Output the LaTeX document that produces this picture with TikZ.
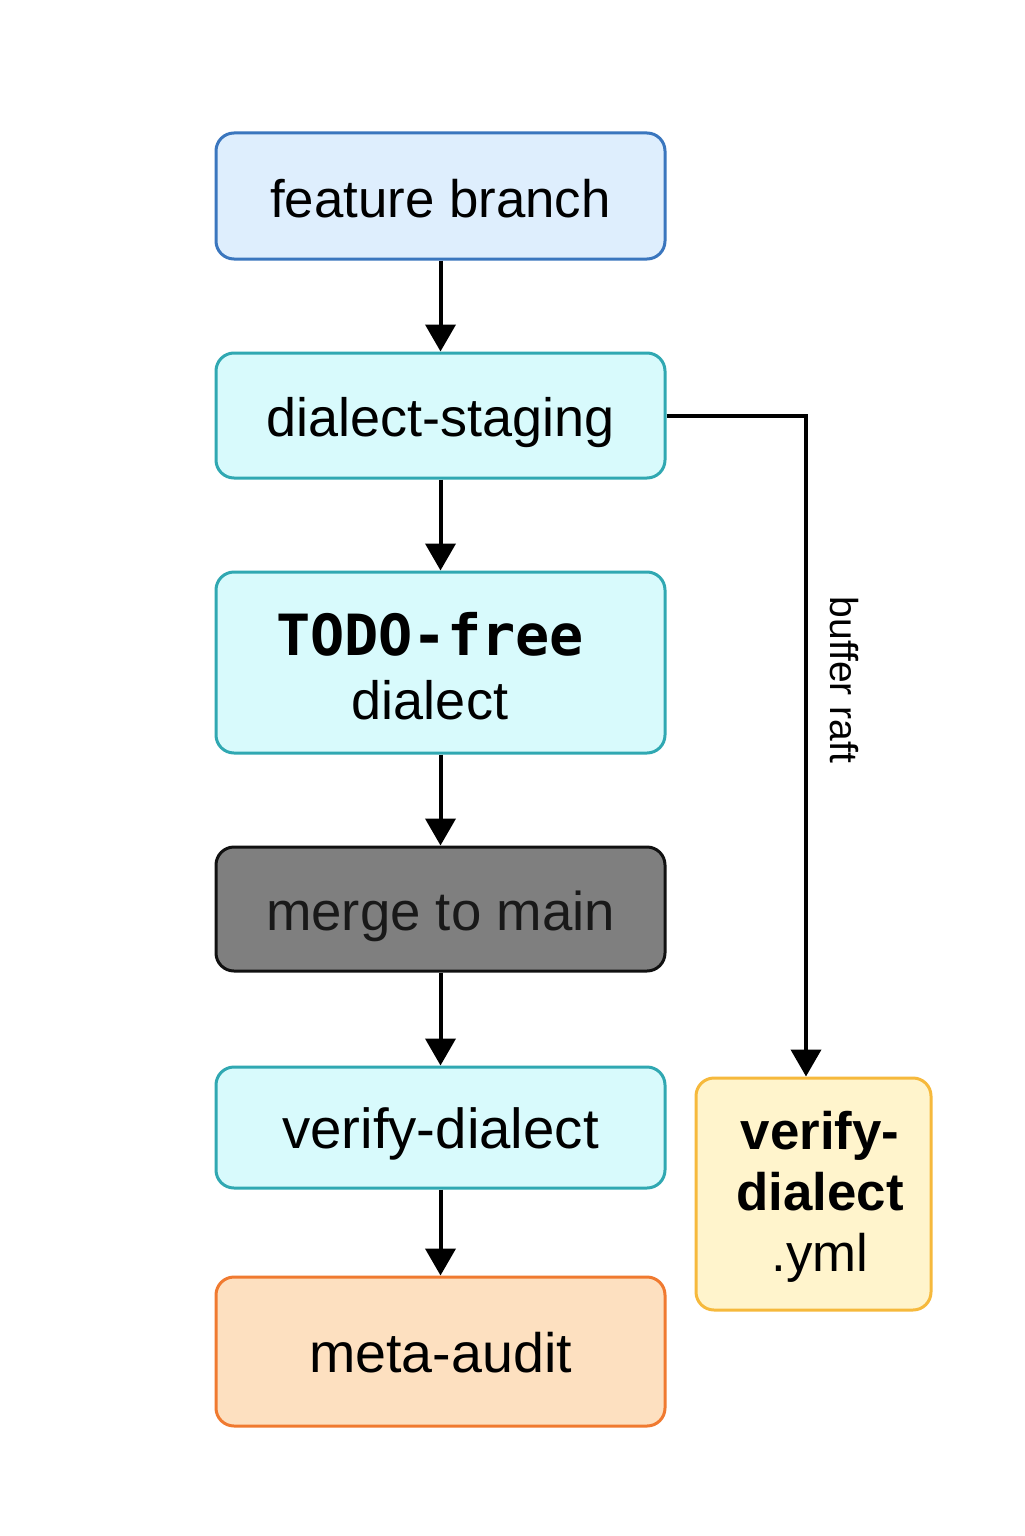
\documentclass[tikz,border=0pt]{standalone}
\usepackage{fontspec}
\setmainfont{Liberation Sans}
\newfontfamily\monofont{DejaVu Sans Mono}
\usetikzlibrary{arrows.meta}
\definecolor{fbfill}{HTML}{DEEEFD}
\definecolor{fbline}{HTML}{3A76BE}
\definecolor{cyfill}{HTML}{D8FAFC}
\definecolor{cyline}{HTML}{30A8B2}
\definecolor{mgfill}{HTML}{7F7F7F}
\definecolor{mgline}{HTML}{111111}
\definecolor{mafill}{HTML}{FDE0C0}
\definecolor{maline}{HTML}{F07A30}
\definecolor{ymfill}{HTML}{FFF4CC}
\definecolor{ymline}{HTML}{F6B93C}
\begin{document}
\begin{tikzpicture}[x=0.5pt,y=-0.5pt,
  box/.style={draw, rounded corners=9pt, line width=1.5pt, minimum width=224.5pt,
    inner sep=0pt, align=center, text=black},
  oneline/.style={text height=21pt, text depth=0pt},
  cyanbox/.style={box, fill=cyfill, draw=cyline},
  arr/.style={line width=2pt, -{Triangle[length=13.5pt,width=15pt]}}]
\useasboundingbox (0,0) rectangle (1024,1536);
\fill[white] (0,0) rectangle (1024,1536);
\node[box, oneline, fill=fbfill, draw=fbline, minimum height=63pt,
  font=\fontsize{26.4}{31}\selectfont] (fb) at (440.5,196) {feature branch};
\node[cyanbox, oneline, minimum height=62.5pt,
  font=\fontsize{27}{31}\selectfont] (ds) at (440.5,415.5) {dialect-staging};
\node[cyanbox, minimum height=90.5pt] (tf) at (440.5,662.5) {};
\node[align=center, inner sep=0pt, font=\fontsize{27}{31}\selectfont] (tft) at (430,666)
  {{\monofont\bfseries\fontsize{28.4}{31}\selectfont TODO-free}\\[1pt]dialect};
\node[box, oneline, fill=mgfill, draw=mgline, minimum height=62pt, text=black!90,
  font=\fontsize{27.3}{31}\selectfont] (mg) at (440.5,909) {merge to main};
\node[cyanbox, oneline, minimum height=60.5pt,
  font=\fontsize{28.2}{31}\selectfont] (vd) at (440.5,1127.5) {verify-dialect};
\node[box, oneline, fill=mafill, draw=maline, minimum height=74.5pt,
  font=\fontsize{27.8}{31}\selectfont] (ma) at (440.5,1351.5) {meta-audit};
\node[box, fill=ymfill, draw=ymline, minimum width=117.5pt, minimum height=116pt] (ym) at (813.5,1194) {};
\node[align=center, inner sep=0pt, font=\fontsize{26.4}{30.5}\selectfont] (ymt) at (820,1197)
  {\textbf{verify-}\\\textbf{dialect}\\.yml};
\draw[arr] (fb) -- (ds);
\draw[arr] (ds) -- (tf);
\draw[arr] (tf) -- (mg);
\draw[arr] (mg) -- (vd);
\draw[arr] (vd) -- (ma);
\coordinate (bend) at (806,415.5);
\draw[arr] (ds.east) -- (bend) -- (bend |- ym.north);
\node[rotate=-90, font=\fontsize{19.5}{22}\selectfont, inner sep=0pt] (lbl) at (844,680) {buffer raft};
\end{tikzpicture}
\end{document}
